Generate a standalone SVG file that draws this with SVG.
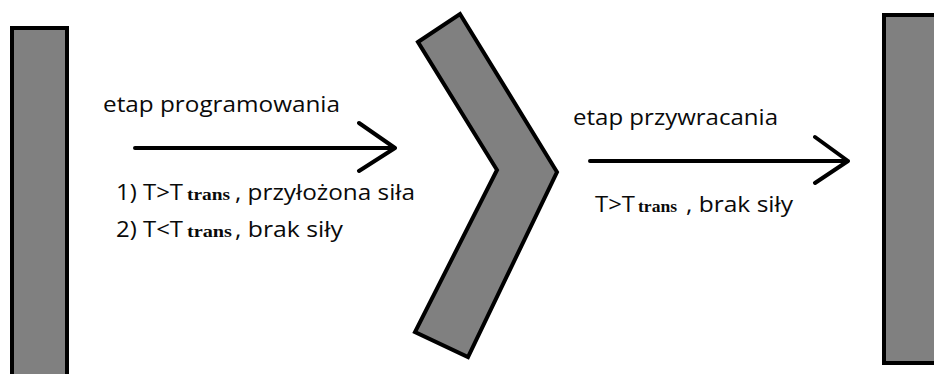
<svg xmlns="http://www.w3.org/2000/svg" width="934" height="374" viewBox="0 0 934 374">
<style>
.shape{fill:#808080;stroke:#000;stroke-width:4;stroke-linejoin:miter}
.arr{fill:none;stroke:#000;stroke-width:4;stroke-linecap:round;stroke-linejoin:round}
.t{font-family:"Open Sans","Liberation Sans",sans-serif;font-size:22px;fill:#0a0a0a}
.s{font-family:"Liberation Serif",serif;font-size:16px;font-weight:bold;fill:#0a0a0a}
</style>
<rect width="934" height="374" fill="#fff"/>
<g id="bar-left"><rect class="shape" x="12" y="28" width="55" height="352"/></g>
<g id="chevron"><polygon class="shape" points="418,42 460,14 557,172 468,357 415,332 497,170"/></g>
<g id="bar-right"><rect class="shape" x="884" y="15" width="60" height="348"/></g>
<g id="connectors">
<path class="arr" d="M135,148 H395 M359,123 L395,148 L359,171"/>
<path class="arr" d="M590,161 H848 M815,137 L848,161 L815,183"/>
</g>
<g id="labels">
<text class="t" x="103" y="112" textLength="237" lengthAdjust="spacingAndGlyphs">etap programowania</text>
<text class="t" x="116" y="200" textLength="67" lengthAdjust="spacingAndGlyphs">1) T&gt;T</text>
<text class="s" x="187" y="200" textLength="43" lengthAdjust="spacingAndGlyphs">trans</text>
<text class="t" x="235" y="200" textLength="180" lengthAdjust="spacingAndGlyphs">, przyłożona siła</text>
<text class="t" x="116" y="237" textLength="67" lengthAdjust="spacingAndGlyphs">2) T&lt;T</text>
<text class="s" x="187" y="237" textLength="45" lengthAdjust="spacingAndGlyphs">trans</text>
<text class="t" x="235" y="237" textLength="108" lengthAdjust="spacingAndGlyphs">, brak siły</text>
<text class="t" x="573" y="125" textLength="205" lengthAdjust="spacingAndGlyphs">etap przywracania</text>
<text class="t" x="595" y="212" textLength="40" lengthAdjust="spacingAndGlyphs">T&gt;T</text>
<text class="s" x="638" y="212" textLength="39" lengthAdjust="spacingAndGlyphs">trans</text>
<text class="t" x="686" y="212" textLength="107" lengthAdjust="spacingAndGlyphs">, brak siły</text>
</g>
</svg>
